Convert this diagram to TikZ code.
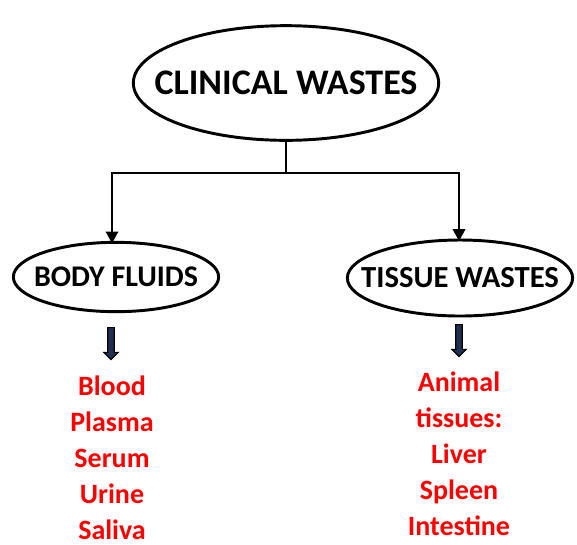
\documentclass[tikz,border=0pt]{standalone}
\usepackage{fontspec}
\setmainfont{Carlito}
\usepackage{tikz}
\usetikzlibrary{shapes.geometric,shapes.arrows,arrows.meta,positioning}
\definecolor{wastered}{HTML}{FF0000}
\definecolor{arrownavy}{HTML}{1F3050}
\tikzset{
  topic/.style={ellipse,draw=black,line width=2.2pt,inner sep=0pt},
  topictext/.style={font=\fontsize{#1}{#1}\selectfont\bfseries,text=black},
  itemlist/.style={text=wastered,font=\fontsize{21}{27}\selectfont\bfseries,align=center,
    inner sep=0pt},
  branch/.style={-{Triangle[length=9pt,width=9pt]},line width=2.2pt},
  bigdown/.style={single arrow,rotate=-90,fill=arrownavy,draw=black,line width=0.8pt,
    minimum height=24pt,minimum width=11pt,single arrow head extend=3pt,
    single arrow head indent=0pt,inner sep=2pt},
}
\begin{document}
\begin{tikzpicture}[x=0.75pt,y=-0.75pt]
  \useasboundingbox (0,0) rectangle (577,544);
  % top level
  \node[topic,minimum width=229pt,minimum height=86pt,
    label={[topictext=27]center:CLINICAL WASTES}] (cw) at (286,83) {};
  % second level
  \node[topic,minimum width=154pt,minimum height=52pt,
    label={[topictext=22.5]center:BODY FLUIDS}] (bf) at (116,277) {};
  \node[topic,minimum width=169pt,minimum height=57pt,
    label={[topictext=23]center:TISSUE WASTES}] (tw) at (460,278) {};
  \coordinate (split) at (286,173);
  \draw[line width=2.2pt] (cw.south) -- (split);
  \draw[branch] (split) -| ([yshift=-2pt]bf.north -| 112,0);
  \draw[branch] (split) -| ([yshift=-2pt]tw.north -| 459,0);
  % lists
  \node[itemlist] (bfl) at (112,458) {Blood\\Plasma\\Serum\\Urine\\Saliva};
  \node[itemlist] (twl) at (459,454) {Animal\\tissues:\\Liver\\Spleen\\Intestine};
  \node[bigdown] (bfa) at (111,342) {};
  \node[bigdown] (twa) at (459,339) {};
\end{tikzpicture}
\end{document}
